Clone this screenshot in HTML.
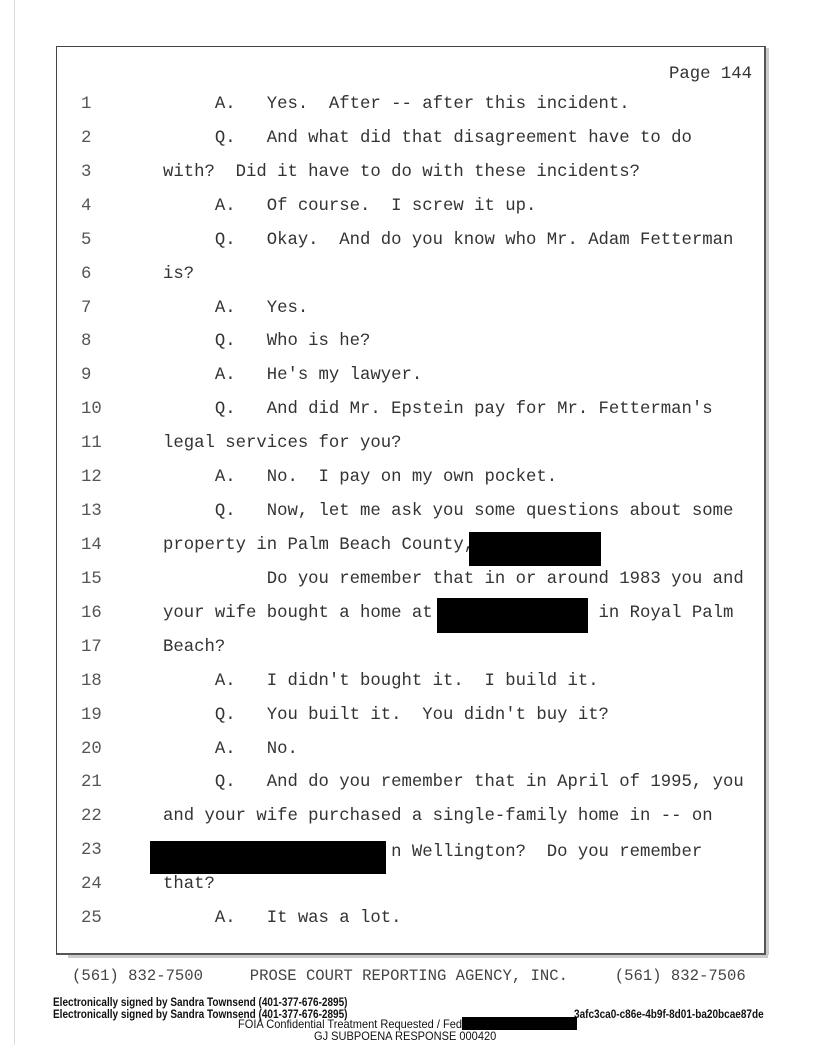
<!DOCTYPE html>
<html><head><meta charset="utf-8"><style>
body{margin:0;width:816px;height:1056px;background:#fff;position:relative;overflow:hidden}
.box{position:absolute;left:56px;top:46px;width:707px;height:906px;border:1px solid #444;border-right:2px solid #555;border-bottom:2px solid #555}
.shR{position:absolute;left:766px;top:48px;width:3px;height:907px;background:#ccc}
.shB{position:absolute;left:68px;top:955px;width:700px;height:3px;background:#ccc}
.edge{position:absolute;left:14px;top:0;width:1px;height:1045px;background:#ddd}
.t{position:absolute;font-family:"Liberation Mono",monospace;font-size:17.3px;color:#333;white-space:pre;line-height:20px}
.n{position:absolute;left:81px;font-family:"Liberation Mono",monospace;font-size:17.3px;color:#555;line-height:20px}
.r{position:absolute;background:#000}
.s{position:absolute;font-family:"Liberation Sans",sans-serif;font-weight:bold;font-size:11.5px;color:#111;transform:scaleX(.87);transform-origin:left;white-space:nowrap;line-height:12px}
.f{position:absolute;font-family:"Liberation Sans",sans-serif;font-size:12px;color:#111;white-space:nowrap;transform:scaleX(.92);transform-origin:left;line-height:12px}
</style></head><body>
<div class="edge"></div>
<div class="box"></div><div class="shR"></div><div class="shB"></div>
<div class="t" style="left:669px;top:65px">Page 144</div>
<div class="n" style="top:95px">1</div><div class="t" style="left:163px;top:95px">     A.   Yes.  After -- after this incident.</div>
<div class="n" style="top:129px">2</div><div class="t" style="left:163px;top:129px">     Q.   And what did that disagreement have to do</div>
<div class="n" style="top:163px">3</div><div class="t" style="left:163px;top:163px">with?  Did it have to do with these incidents?</div>
<div class="n" style="top:197px">4</div><div class="t" style="left:163px;top:197px">     A.   Of course.  I screw it up.</div>
<div class="n" style="top:231px">5</div><div class="t" style="left:163px;top:231px">     Q.   Okay.  And do you know who Mr. Adam Fetterman</div>
<div class="n" style="top:265px">6</div><div class="t" style="left:163px;top:265px">is?</div>
<div class="n" style="top:299px">7</div><div class="t" style="left:163px;top:299px">     A.   Yes.</div>
<div class="n" style="top:332px">8</div><div class="t" style="left:163px;top:332px">     Q.   Who is he?</div>
<div class="n" style="top:366px">9</div><div class="t" style="left:163px;top:366px">     A.   He's my lawyer.</div>
<div class="n" style="top:400px">10</div><div class="t" style="left:163px;top:400px">     Q.   And did Mr. Epstein pay for Mr. Fetterman's</div>
<div class="n" style="top:434px">11</div><div class="t" style="left:163px;top:434px">legal services for you?</div>
<div class="n" style="top:468px">12</div><div class="t" style="left:163px;top:468px">     A.   No.  I pay on my own pocket.</div>
<div class="n" style="top:502px">13</div><div class="t" style="left:163px;top:502px">     Q.   Now, let me ask you some questions about some</div>
<div class="n" style="top:536px">14</div><div class="t" style="left:163px;top:536px">property in Palm Beach County,</div>
<div class="r" style="left:469px;top:532px;width:132px;height:34px"></div>
<div class="n" style="top:570px">15</div><div class="t" style="left:163px;top:570px">          Do you remember that in or around 1983 you and</div>
<div class="n" style="top:604px">16</div><div class="t" style="left:163px;top:604px">your wife bought a home at                in Royal Palm</div>
<div class="r" style="left:437px;top:598px;width:151px;height:35px"></div>
<div class="n" style="top:638px">17</div><div class="t" style="left:163px;top:638px">Beach?</div>
<div class="n" style="top:672px">18</div><div class="t" style="left:163px;top:672px">     A.   I didn't bought it.  I build it.</div>
<div class="n" style="top:706px">19</div><div class="t" style="left:163px;top:706px">     Q.   You built it.  You didn't buy it?</div>
<div class="n" style="top:740px">20</div><div class="t" style="left:163px;top:740px">     A.   No.</div>
<div class="n" style="top:773px">21</div><div class="t" style="left:163px;top:773px">     Q.   And do you remember that in April of 1995, you</div>
<div class="n" style="top:807px">22</div><div class="t" style="left:163px;top:807px">and your wife purchased a single-family home in -- on</div>
<div class="n" style="top:841px">23</div><div class="t" style="left:163px;top:843px">                      n Wellington?  Do you remember</div>
<div class="r" style="left:150px;top:841px;width:236px;height:33px"></div>
<div class="n" style="top:875px">24</div><div class="t" style="left:163px;top:875px">that?</div>
<div class="n" style="top:909px">25</div><div class="t" style="left:163px;top:909px">     A.   It was a lot.</div>
<div class="t" style="left:72px;top:966px;color:#444;font-size:15.6px">(561) 832-7500     PROSE COURT REPORTING AGENCY, INC.     (561) 832-7506</div>
<div class="s" style="left:53px;top:997px">Electronically signed by Sandra Townsend (401-377-676-2895)</div>
<div class="s" style="left:53px;top:1009px">Electronically signed by Sandra Townsend (401-377-676-2895)</div>
<div class="s" style="left:574px;top:1009px">3afc3ca0-c86e-4b9f-8d01-ba20bcae87de</div>
<div class="f" style="left:238px;top:1018px">FOIA Confidential Treatment Requested / Fed.</div>
<div class="r" style="left:462px;top:1017px;width:115px;height:13px"></div>
<div class="f" style="left:314px;top:1030px">GJ SUBPOENA RESPONSE 000420</div>
</body></html>
